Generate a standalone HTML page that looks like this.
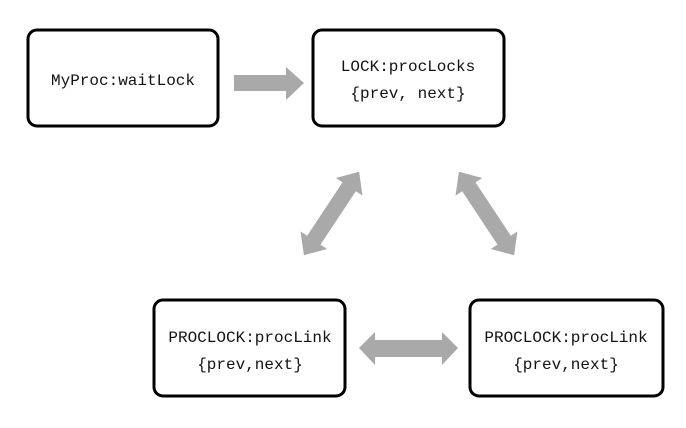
<!DOCTYPE html>
<html><head><style>
body{margin:0;background:#fff}
svg text{font-family:"Liberation Mono","Noto Sans CJK SC",monospace;font-size:16px;fill:#111}
</style></head><body>
<svg width="686" height="423" viewBox="0 0 686 423" xmlns="http://www.w3.org/2000/svg">
<g fill="#fff" stroke="#000" stroke-width="3">
<rect x="28" y="30" width="190" height="96" rx="9"/>
<rect x="313" y="30" width="191" height="96" rx="9"/>
<rect x="154" y="300" width="191" height="96" rx="9"/>
<rect x="470" y="300" width="193" height="96" rx="9"/>
</g>
<g text-anchor="middle">
<text x="123" y="85">MyProc:waitLock</text>
<text x="408" y="71">LOCK:procLocks</text>
<text x="408" y="98">{prev, next}</text>
<text x="250" y="342">PROCLOCK:procLink</text>
<text x="250" y="369">{prev,next}</text>
<text x="566" y="342">PROCLOCK:procLink</text>
<text x="566" y="369">{prev,next}</text>
</g>
<g fill="#a9a9a9">
<polygon points="234,75 286,75 286,67 304,83 286,100 286,91 234,91"/>
<polygon points="359,348 375,332 375,340 442,340 442,332 458,348 442,365 442,357 375,357 375,365"/>
<g transform="translate(331.5,213.5) rotate(-56.5)">
<polygon points="-50,0 -32,-16 -32,-8 32,-8 32,-16 50,0 32,16 32,8 -32,8 -32,16"/>
</g>
<g transform="translate(486.5,213.5) rotate(56.5)">
<polygon points="-50,0 -32,-16 -32,-8 32,-8 32,-16 50,0 32,16 32,8 -32,8 -32,16"/>
</g>
</g>
</svg>
</body></html>
